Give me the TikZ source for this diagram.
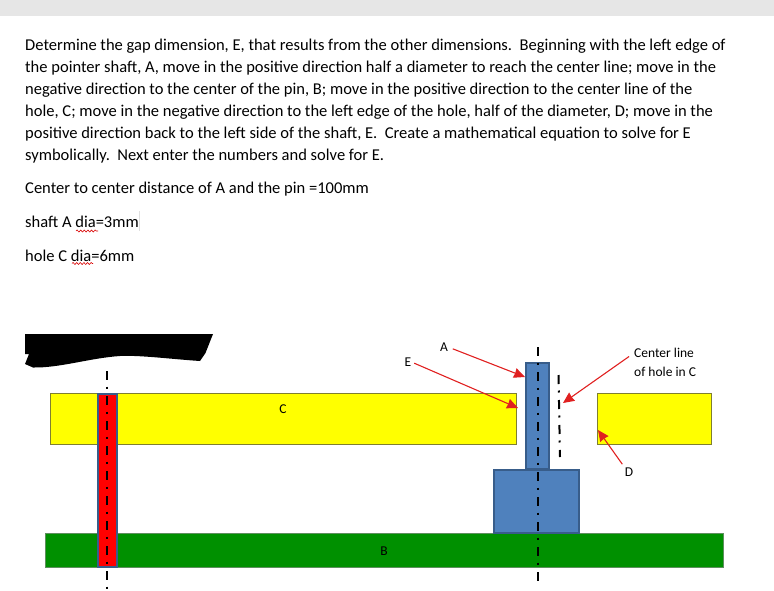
\documentclass[tikz,border=0pt]{standalone}
\usepackage{fontspec}
\setmainfont{Carlito}
\usepackage{xcolor}
\usetikzlibrary{arrows.meta,decorations.pathmorphing}
\definecolor{bandgray}{HTML}{E6E6E6}
\definecolor{partyellow}{HTML}{FFFF00}
\definecolor{edgeyellow}{HTML}{7F7F30}
\definecolor{partgreen}{HTML}{009000}
\definecolor{edgegreen}{HTML}{5F8F5F}
\definecolor{partblue}{HTML}{4F81BD}
\definecolor{edgeblue}{HTML}{385D8A}
\definecolor{arrowred}{HTML}{E02020}
\tikzset{
  para/.style={anchor=base west,inner sep=0pt,font=\fontsize{16.53}{20}\selectfont},
  lbl/.style={inner sep=0pt,font=\fontsize{13.5}{16}\selectfont},
  centerline/.style={line width=2pt,dash pattern=on 9pt off 6.5pt on 2pt off 7.5pt},
  pointer/.style={arrowred,line width=1.1pt,-{Stealth[length=11pt,width=10pt,inset=0.5pt]}},
  squiggle/.style={red!85!black,line width=0.6pt,decorate,decoration={snake,amplitude=1pt,segment length=3.6pt}}
}
\begin{document}
\begin{tikzpicture}[x=1pt,y=-1pt]
\useasboundingbox (0,0) rectangle (774,590);
\fill[bandgray] (0,0) rectangle (774,15.5);
% question text
\node[para] (line1) at (25,50.5) {Determine the gap dimension, E, that results from the other dimensions.\ \ Beginning with the left edge of};
\node[para] (line2) at (25,72.5) {the pointer shaft, A, move in the positive direction half a diameter to reach the center line; move in the};
\node[para] (line3) at (25,94) {negative direction to the center of the pin, B; move in the positive direction to the center line of the};
\node[para] (line4) at (25,116) {hole, C; move in the negative direction to the left edge of the hole, half of the diameter, D; move in the};
\node[para] (line5) at (25,138) {positive direction back to the left side of the shaft, E.\ \ Create a mathematical equation to solve for E};
\node[para] (line6) at (25,160) {symbolically.\ \ Next enter the numbers and solve for E.};
\node[para] (dist) at (25,193.5) {Center to center distance of A and the pin =100mm};
\node[para] (shaft) at (25,227.5) {shaft A dia=3mm};
\node[para] (hole) at (25,261.5) {hole C dia=6mm};
\draw[squiggle] (76,231) -- (98,231);
\draw[squiggle] (72,263.5) -- (93,263.5);
\draw[black!12,line width=0.5pt] (139.5,211) -- (139.5,231);
% scribbled out title
\fill (25,334) -- (213,334) -- (205.5,353) -- (200,361) .. controls (170,359) and (140,355) .. (120,356)
  .. controls (90,358) and (60,368) .. (33,367.5) -- (25,364) -- (29,354) -- (25,354) -- cycle;
% parts
\draw[fill=partyellow,draw=edgeyellow] (50.5,393.5) rectangle (516,444);
\draw[fill=partyellow,draw=edgeyellow] (597,393.5) rectangle (711,444.5);
\draw[fill=partgreen,draw=edgegreen] (45,533.5) rectangle (723,567.5);
\draw[fill=red,draw=edgeblue,line width=2pt] (97.5,394) rectangle (117,566.5);
\draw[fill=partblue,draw=edgeblue,line width=2pt] (526,362.5) rectangle (548.5,469);
\draw[fill=partblue,draw=edgeblue,line width=2pt] (494,469.5) rectangle (579,533);
% center lines
\draw[centerline] (107,371) -- (107,590);
\draw[centerline] (537.5,347) -- (537.5,583);
\draw[centerline] (558.5,375) -- (560,457);
% labels
\node[lbl] (lblA) at (444,347) {A};
\node[lbl] (lblE) at (408,362) {E};
\node[lbl] (lblC) at (283,409) {C};
\node[lbl] (lblB) at (384,551) {B};
\node[lbl] (lblD) at (629,472) {D};
\node[lbl,anchor=west] (lblcenter) at (634,353) {Center line};
\node[lbl,anchor=west] (lblhole) at (634,372) {of hole in C};
% pointers
\coordinate (tipA) at (525,377);
\coordinate (tipE) at (518,408);
\coordinate (tipcenter) at (563,403);
\coordinate (tipD) at (598,430);
\draw[pointer,shorten <=5pt] (lblA.east) -- (tipA);
\draw[pointer,shorten <=3pt] (lblE.east) -- (tipE);
\draw[pointer,shorten <=6pt] (lblcenter.west) -- (tipcenter);
\draw[pointer,shorten <=4pt] (lblD.north west) -- (tipD);
\end{tikzpicture}
\end{document}
